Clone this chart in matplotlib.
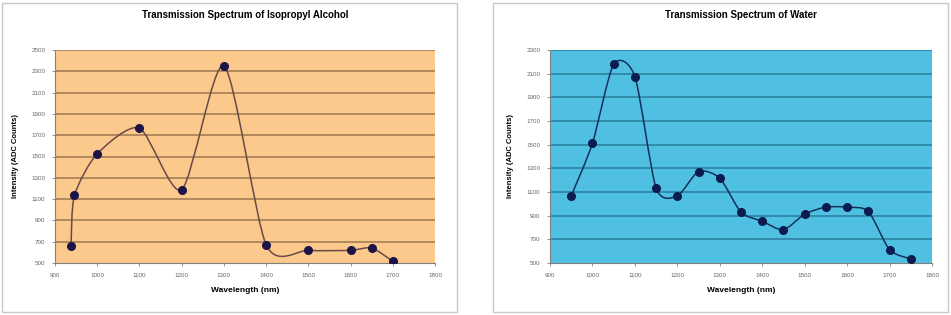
import matplotlib
matplotlib.use("Agg")
import matplotlib.pyplot as plt
import numpy as np
from matplotlib.path import Path
from matplotlib.patches import PathPatch, Rectangle

plt.rcParams['font.family'] = ['Liberation Sans', 'DejaVu Sans']

# isopropyl alcohol
ipa_wl = [938, 946, 1000, 1100, 1200, 1300, 1400, 1500, 1600, 1650, 1700]
ipa_counts = [662, 1134, 1525, 1766, 1188, 2353, 672, 619, 619, 641, 516]

# water
water_wl = [950, 1000, 1050, 1100, 1150, 1200, 1250, 1300, 1350, 1400,
            1450, 1500, 1550, 1600, 1650, 1700, 1750]
water_counts = [1068, 1512, 2179, 2075, 1133, 1068, 1273, 1217, 930, 852,
                781, 913, 972, 972, 936, 612, 534]

x_ticks = [900, 1000, 1100, 1200, 1300, 1400, 1500, 1600, 1700, 1800]
ipa_yticks = list(range(500, 2501, 200))
water_yticks = list(range(500, 2301, 200))


def smooth_path(x, y, k=8.0):
    # smoothed line like excel: cubic bezier through the points
    p = np.column_stack([x, y]).astype(float)
    verts = [p[0]]
    codes = [Path.MOVETO]
    n = len(p)
    for i in range(n - 1):
        p0 = p[i - 1] if i > 0 else p[i]
        p3 = p[i + 2] if i + 2 < n else p[i + 1]
        c1 = p[i] + (p[i + 1] - p0) / k
        c2 = p[i + 1] - (p3 - p[i]) / k
        verts += [c1, c2, p[i + 1]]
        codes += [Path.CURVE4] * 3
    return Path(verts, codes)


def draw_chart(rect, frame, title, x, y, yticks, bg, grid, line, marker):
    fig.add_artist(Rectangle((frame[0], frame[1]), frame[2], frame[3],
                             transform=fig.transFigure, fill=False,
                             edgecolor='#c8c8c8', linewidth=1.0))
    ax = fig.add_axes(rect)
    ax.set_facecolor(bg)
    ax.set_xlim(900, 1800)
    ax.set_ylim(yticks[0], yticks[-1])
    ax.set_xticks(x_ticks)
    ax.set_yticks(yticks)
    for t in yticks[1:]:
        ax.axhline(t, color=grid, linewidth=1.1, zorder=1)
    ax.add_patch(PathPatch(smooth_path(x, y), fill=False, edgecolor=line,
                           linewidth=1.1, zorder=2))
    ax.plot(x, y, 'o', color=marker, markersize=5.5, zorder=3)
    for s in ['top', 'right']:
        ax.spines[s].set_visible(False)
    for s in ['left', 'bottom']:
        ax.spines[s].set_color('#808080')
        ax.spines[s].set_linewidth(0.8)
    ax.tick_params(labelsize=4.5, colors='#808080', labelcolor='#666666',
                   length=2, width=0.6, pad=5)
    ax.set_title(title, fontsize=7, fontweight='bold', pad=23)
    ax.set_xlabel('Wavelength (nm)', fontsize=6, fontweight='bold', labelpad=7)
    ax.set_ylabel('Intensity (ADC Counts)', fontsize=5.5, fontweight='bold',
                  labelpad=9)
    return ax


fig = plt.figure(figsize=(9.51, 3.15), dpi=100)

draw_chart([55 / 951, 1 - 263 / 315, 380 / 951, 213 / 315],
           [2 / 951, 3 / 315, 455 / 951, 309 / 315],
           'Transmission Spectrum of Isopropyl Alcohol',
           ipa_wl, ipa_counts, ipa_yticks,
           '#fbc98c', '#9c7850', '#6a4a48', '#1c1448')

draw_chart([550 / 951, 1 - 263 / 315, 382 / 951, 213 / 315],
           [493 / 951, 3 / 315, 455 / 951, 309 / 315],
           'Transmission Spectrum of Water',
           water_wl, water_counts, water_yticks,
           '#50c0e2', '#2a7e9e', '#14305a', '#0c1c50')

fig.savefig('out.png', dpi=100)
